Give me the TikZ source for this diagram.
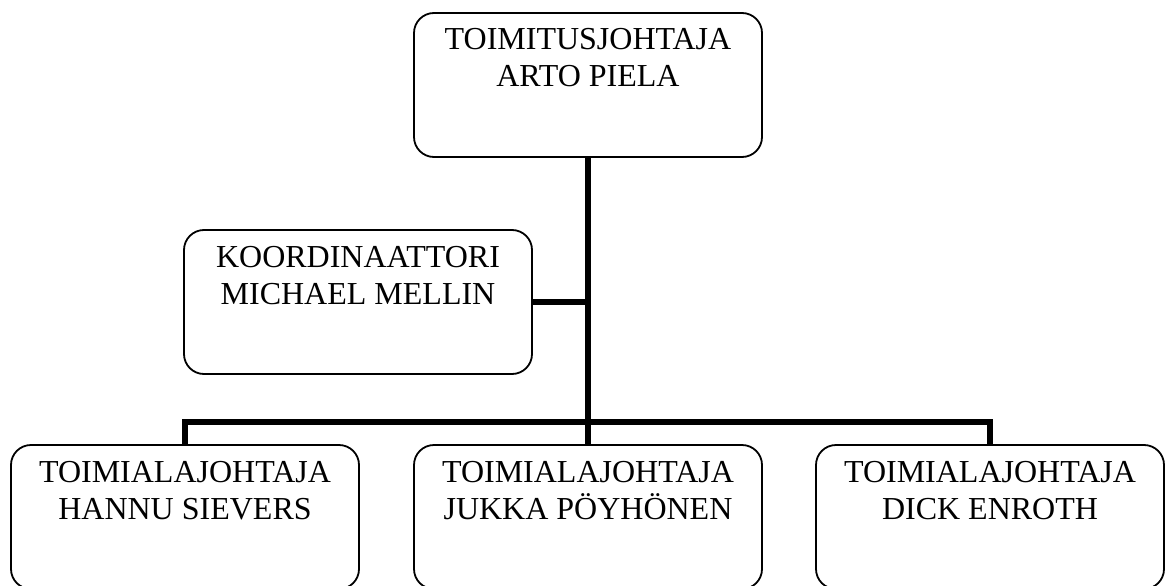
\documentclass[tikz,border=0pt]{standalone}
\usepackage{fontspec}
\setmainfont{Liberation Serif}
\newcommand{\boxlines}[2]{\parbox[t][144pt][t]{348pt}{\centering\rule{0pt}{37pt}#1\\#2}}

\begin{document}
\begin{tikzpicture}[x=1pt,y=-1pt,line width=6.5pt]
      \tikzstyle{orgbox}=[draw,line width=1.8pt,rounded corners=20pt,inner sep=0pt,font=\fontsize{32}{37}\selectfont]
      \useasboundingbox (0,0) rectangle (1170,586);

      \node[orgbox] (ceo) at (588,85) {\boxlines{TOIMITUSJOHTAJA}{ARTO PIELA}};
      \node[orgbox] (koord) at (358,302) {\boxlines{KOORDINAATTORI}{MICHAEL MELLIN}};
      \node[orgbox] (hannu) at (185,517) {\boxlines{TOIMIALAJOHTAJA}{HANNU SIEVERS}};
      \node[orgbox] (jukka) at (588,517) {\boxlines{TOIMIALAJOHTAJA}{JUKKA PÖYHÖNEN}};
      \node[orgbox] (dick) at (990,517) {\boxlines{TOIMIALAJOHTAJA}{DICK ENROTH}};
      \coordinate (bus) at (588,422);

      \draw (ceo.south) -- (jukka.north);
      \draw (koord.east) -- (koord.east -| ceo.south);
      \draw (hannu.north) |- (bus) -| (dick.north);
\end{tikzpicture}
\end{document}
